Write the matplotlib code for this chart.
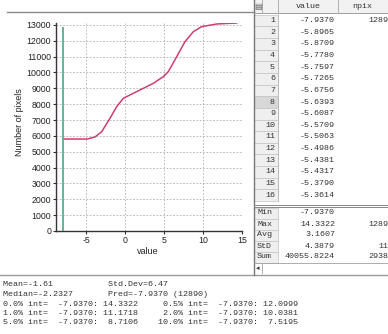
import matplotlib
matplotlib.use("Agg")
from matplotlib import pyplot as plt
from matplotlib.lines import Line2D
from matplotlib.patches import Rectangle
import numpy as np

plt.rcParams['axes.unicode_minus'] = False

W, H = 388, 334

# cumulative curve
curve_value = [-7.937, -4.87, -3.85, -2.99, -1.93, -1.07, -0.22, 1.06, 2.35, 3.63,
               4.91, 5.55, 6.63, 7.69, 8.76, 9.83, 11.75, 13.46, 14.3322]
curve_npix = [5800, 5800, 5930, 6265, 7107, 7843, 8369, 8685, 9000, 9316,
              9736, 10051, 10997, 11943, 12574, 12889, 13057, 13100, 13120]
pred_value = -7.9370
pred_npix = 12890

x_ticks = [-5, 0, 5, 10, 15]
y_ticks = list(range(0, 13001, 1000))

# table on the right
row_ids = list(range(1, 17))
row_values = ['-7.9370', '-5.8965', '-5.8709', '-5.7780', '-5.7597', '-5.7265',
              '-5.6756', '-5.6393', '-5.6087', '-5.5709', '-5.5063', '-5.4986',
              '-5.4381', '-5.4317', '-5.3790', '-5.3614']
row_npix = ['12890'] + ['1'] * 15
sum_labels = ['Min', 'Max', 'Avg', 'StD', 'Sum']
sum_values = ['-7.9370', '14.3322', '3.1607', '4.3879', '40055.8224']
sum_npix = ['1', '12890', '2', '114', '29383']

# statistics text under the plot
stat_lines = [
    "Mean=-1.61           Std.Dev=6.47",
    "Median=-2.2327       Pred=-7.9370 (12890)",
    "0.0% int=  -7.9370: 14.3322     0.5% int=  -7.9370: 12.0999",
    "1.0% int=  -7.9370: 11.1718     2.0% int=  -7.9370: 10.0381",
    "5.0% int=  -7.9370:  8.7106    10.0% int=  -7.9370:  7.5195",
]

fig = plt.figure(figsize=(W / 100, H / 100), dpi=100)

# ---- plot ----
ax = fig.add_axes([56 / W, 1 - 231 / H, (242 - 56) / W, (231 - 23) / H])
ax.plot(curve_value, curve_npix, color='#cf3f6c', lw=1.1, zorder=3)
ax.vlines(pred_value, 0, pred_npix, color='#5aae90', lw=1.3, zorder=3)
ax.set_xlim(-8.85, 15)
ax.set_ylim(0, 13120)
ax.set_xticks(x_ticks)
ax.set_yticks(y_ticks)
ax.grid(True, color='#b0b0b0', linestyle=(0, (2, 2)), lw=0.6)
for s in ['top', 'right']:
    ax.spines[s].set_visible(False)
for s in ['left', 'bottom']:
    ax.spines[s].set_color('#333333')
    ax.spines[s].set_linewidth(1.0)
ax.tick_params(axis='both', labelsize=6.3, length=2.5, width=0.8, pad=1,
               colors='#333333', labelcolor='#222222')
for lab in ax.get_xticklabels() + ax.get_yticklabels():
    lab.set_family('Liberation Sans')

fig.text(20 / W, 1 - 122 / H, 'Number of pixels', rotation=90, ha='center',
         va='center', fontsize=6.5, family='Liberation Sans', color='#222222')
fig.text(148 / W, 1 - 252 / H, 'value', ha='center', va='center',
         fontsize=6.5, family='Liberation Sans', color='#222222')

# ---- overlay in pixel coordinates for the window parts ----
ov = fig.add_axes([0, 0, 1, 1], zorder=-1)
ov.set_xlim(0, W)
ov.set_ylim(H, 0)
ov.axis('off')

# window frame lines
ov.plot([7, 254], [12, 12], color='#8a8a8a', lw=1.0)
ov.plot([0, W], [275, 275], color='#9a9a9a', lw=1.0)

mono = dict(family='Liberation Mono', fontsize=6, color='#333333')

# table frame
tx0, tx1, tx2 = 254, 278, 338
ov.plot([tx0, tx0], [0, 275], color='#777777', lw=1.0)
ov.add_patch(Rectangle((tx0, 0), W - tx0, 13, facecolor='#f2f2f2',
                       edgecolor='none'))
ov.plot([tx0, W], [13, 13], color='#a0a0a0', lw=0.7)
for xx in [262, tx1, tx2]:
    ov.plot([xx, xx], [0, 13], color='#b0b0b0', lw=0.7)
ov.text(258, 6.5, '\u25a4', ha='center', va='center', fontsize=6, color='#666666')
ov.text(308, 6.5, 'value', ha='center', va='center', **mono)
ov.text(362, 6.5, 'npix', ha='center', va='center', **mono)

row_h = 11.65
for i, (rid, val, npx) in enumerate(zip(row_ids, row_values, row_npix)):
    yc = 20.5 + i * row_h
    shade = '#d8d8d8' if rid == 8 else '#efefef'
    ov.add_patch(Rectangle((tx0, yc - row_h / 2), tx1 - tx0, row_h,
                           facecolor=shade, edgecolor='#c4c4c4', lw=0.5))
    ov.text(275, yc, str(rid), ha='right', va='center', **mono)
    ov.text(335, yc, val, ha='right', va='center', **mono)
    ov.text(393, yc, npx, ha='right', va='center', **mono)
ov.plot([tx1, tx1], [13, 20.5 + 15.5 * row_h], color='#b8b8b8', lw=0.6)

# summary block
ov.plot([tx0, W], [205, 205], color='#888888', lw=0.7)
ov.plot([tx0, W], [207, 207], color='#888888', lw=0.7)
for i, (lab, val, npx) in enumerate(zip(sum_labels, sum_values, sum_npix)):
    yc = 213 + i * 11
    ov.add_patch(Rectangle((tx0, yc - 5.5), tx1 - tx0, 11,
                           facecolor='#efefef', edgecolor='#c4c4c4', lw=0.5))
    ov.text(257, yc, lab, ha='left', va='center', **mono)
    ov.text(335, yc, val, ha='right', va='center', **mono)
    ov.text(393, yc, npx, ha='right', va='center', **mono)
ov.plot([tx0, W], [263, 263], color='#a0a0a0', lw=0.6)
ov.text(258, 268.5, '\u25c2', ha='center', va='center', fontsize=5, color='#333333')
ov.plot([262, 262], [264, 273], color='#a0a0a0', lw=0.6)

# statistics text
for i, line in enumerate(stat_lines):
    ov.text(3, 285 + i * 9.5, line, ha='left', va='center', **mono)

fig.savefig('out.png', dpi=100)
